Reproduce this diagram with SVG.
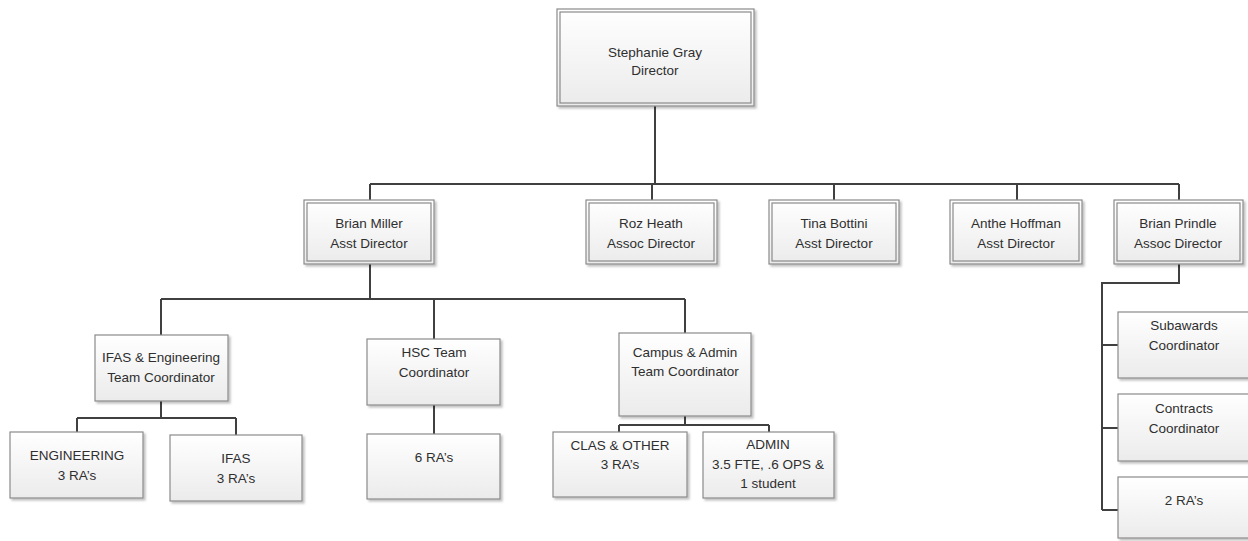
<svg xmlns="http://www.w3.org/2000/svg" width="1248" height="541" viewBox="0 0 1248 541">
<defs>
<linearGradient id="g" x1="0" y1="0" x2="0" y2="1">
<stop offset="0" stop-color="#ffffff"/>
<stop offset="1" stop-color="#ebebeb"/>
</linearGradient>
<filter id="sh" x="-10%" y="-10%" width="125%" height="130%">
<feDropShadow dx="2" dy="2" stdDeviation="1" flood-color="#000" flood-opacity="0.25"/>
</filter>
</defs>
<style>
.b{fill:url(#g);stroke:#8a8a8a;stroke-width:1.2;filter:url(#sh)}
.i{fill:none;stroke:#8a8a8a;stroke-width:1.2}
.t{font-family:"Liberation Sans",Arial,sans-serif;font-size:13.5px;fill:#2f2f2f;text-anchor:middle}
.c{fill:none;stroke:#404040;stroke-width:2}
</style>
<rect width="1248" height="541" fill="#fff"/>
<g id="connectors">
<path class="c" d="M655,106V184M370,184H1179M370,184V200M652,184V200M834,184V200M1017,184V200M1179,184V200"/>
<path class="c" d="M370,264V299M161,299H685M161,299V335M434,299V339M685,299V333"/>
<path class="c" d="M161,401V418M77,418H236M77,418V432M236,418V435"/>
<path class="c" d="M434,405V434"/>
<path class="c" d="M685,416V425M619,425H769M619,425V432M769,425V432"/>
<path class="c" d="M1179,264V283H1102V510M1102,345H1118M1102,428H1118M1102,510H1118"/>
</g>
<g id="director">
<rect class="b" x="557" y="9" width="197" height="97"/>
<rect class="i" x="560" y="12" width="191" height="91"/>
<text class="t" x="655" y="57">Stephanie Gray</text>
<text class="t" x="655" y="75">Director</text>
</g>
<g id="miller">
<rect class="b" x="304" y="200" width="130" height="64"/>
<rect class="i" x="307" y="203" width="124" height="58"/>
<text class="t" x="369" y="228">Brian Miller</text>
<text class="t" x="369" y="248">Asst Director</text>
</g>
<g id="heath">
<rect class="b" x="586" y="200" width="131" height="64"/>
<rect class="i" x="589" y="203" width="125" height="58"/>
<text class="t" x="651" y="228">Roz Heath</text>
<text class="t" x="651" y="248">Assoc Director</text>
</g>
<g id="bottini">
<rect class="b" x="769" y="200" width="130" height="64"/>
<rect class="i" x="772" y="203" width="124" height="58"/>
<text class="t" x="834" y="228">Tina Bottini</text>
<text class="t" x="834" y="248">Asst Director</text>
</g>
<g id="hoffman">
<rect class="b" x="950" y="200" width="132" height="64"/>
<rect class="i" x="953" y="203" width="126" height="58"/>
<text class="t" x="1016" y="228">Anthe Hoffman</text>
<text class="t" x="1016" y="248">Asst Director</text>
</g>
<g id="prindle">
<rect class="b" x="1114" y="200" width="129" height="64"/>
<rect class="i" x="1117" y="203" width="123" height="58"/>
<text class="t" x="1178" y="228">Brian Prindle</text>
<text class="t" x="1178" y="248">Assoc Director</text>
</g>
<g id="ifaseng">
<rect class="b" x="95" y="335" width="133" height="66"/>
<text class="t" x="161" y="362">IFAS &amp; Engineering</text>
<text class="t" x="161" y="382">Team Coordinator</text>
</g>
<g id="hsc">
<rect class="b" x="367" y="339" width="133" height="66"/>
<text class="t" x="434" y="357">HSC Team</text>
<text class="t" x="434" y="377">Coordinator</text>
</g>
<g id="campus">
<rect class="b" x="619" y="333" width="132" height="83"/>
<text class="t" x="685" y="357">Campus &amp; Admin</text>
<text class="t" x="685" y="376">Team Coordinator</text>
</g>
<g id="engineering">
<rect class="b" x="10" y="432" width="133" height="66"/>
<text class="t" x="77" y="460">ENGINEERING</text>
<text class="t" x="77" y="480">3 RA’s</text>
</g>
<g id="ifas">
<rect class="b" x="170" y="435" width="132" height="66"/>
<text class="t" x="236" y="463">IFAS</text>
<text class="t" x="236" y="483">3 RA’s</text>
</g>
<g id="hscras">
<rect class="b" x="367" y="434" width="133" height="65"/>
<text class="t" x="434" y="462">6 RA’s</text>
</g>
<g id="clas">
<rect class="b" x="553" y="432" width="134" height="65"/>
<text class="t" x="620" y="450">CLAS &amp; OTHER</text>
<text class="t" x="620" y="469">3 RA’s</text>
</g>
<g id="admin">
<rect class="b" x="703" y="432" width="131" height="66"/>
<text class="t" x="768" y="449">ADMIN</text>
<text class="t" x="768" y="469">3.5 FTE, .6 OPS &amp;</text>
<text class="t" x="768" y="488">1 student</text>
</g>
<g id="subawards">
<rect class="b" x="1118" y="312" width="134" height="66"/>
<text class="t" x="1184" y="330">Subawards</text>
<text class="t" x="1184" y="350">Coordinator</text>
</g>
<g id="contracts">
<rect class="b" x="1118" y="394" width="134" height="67"/>
<text class="t" x="1184" y="413">Contracts</text>
<text class="t" x="1184" y="433">Coordinator</text>
</g>
<g id="ras2">
<rect class="b" x="1118" y="477" width="134" height="61"/>
<text class="t" x="1184" y="505">2 RA’s</text>
</g>
</svg>
